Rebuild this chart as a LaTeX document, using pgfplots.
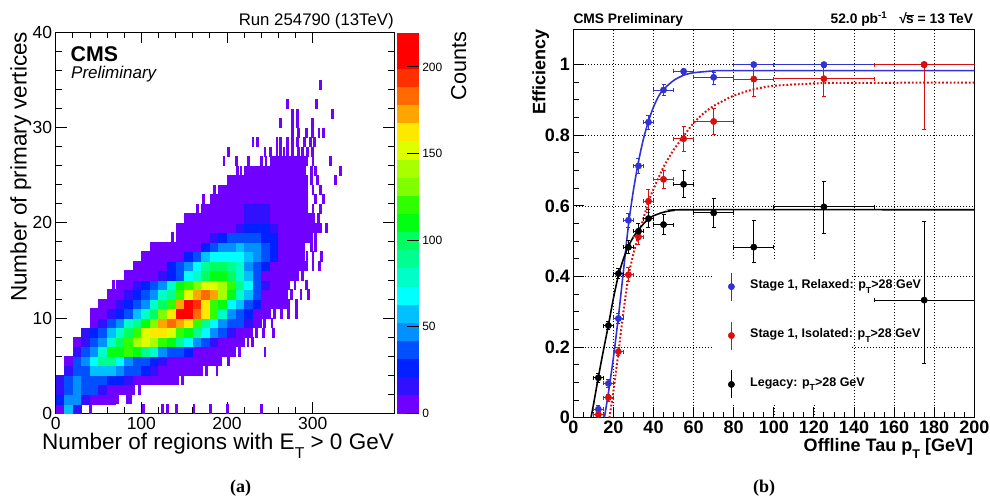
\documentclass[border=0pt]{standalone}
\usepackage{pgfplots}
\usepackage{pgfplotstable}
\pgfplotsset{compat=1.18}
\usepackage{fontspec}
\setmainfont{Liberation Sans}
\newfontfamily\timesbf{Liberation Serif}
\definecolor{cmsblue}{RGB}{50,50,210}
\definecolor{cmsred}{RGB}{215,15,15}
\definecolor{cms0}{RGB}{112,0,255}
\newcommand{\lowT}[1]{\raisebox{-0.38em}{\fontsize{#1}{#1}\selectfont T}}
\pgfplotsset{
  colormap={cms}{
    rgb255=(112,0,255) rgb255=(48,16,255) rgb255=(0,32,255) rgb255=(0,80,255)
    rgb255=(0,144,255) rgb255=(0,192,255) rgb255=(0,255,255) rgb255=(0,255,200)
    rgb255=(0,255,144) rgb255=(0,255,96) rgb255=(0,255,16) rgb255=(48,255,0)
    rgb255=(128,255,0) rgb255=(168,255,0) rgb255=(221,255,0) rgb255=(255,232,0)
    rgb255=(255,165,0) rgb255=(255,106,0) rgb255=(255,48,0) rgb255=(255,0,0)
    rgb255=(255,0,0)
  },
}
% 2D histogram: bin start x (width 10), row y (width 1), counts c
\pgfplotstableread{
x y c
0 0 8
10 0 58
20 0 18
0 1 22
10 1 50
20 1 45
30 1 15
40 1 8
50 1 6
60 1 4
0 2 18
10 2 40
20 2 45
30 2 38
40 2 32
50 2 18
60 2 10
70 2 6
80 2 3
0 3 12
10 3 35
20 3 45
30 3 40
40 3 38
50 3 35
60 3 30
70 3 25
80 3 15
90 3 10
100 3 7
110 3 5
120 3 4
130 3 3
10 4 15
20 4 35
30 4 40
40 4 58
50 4 62
60 4 60
70 4 45
80 4 38
90 4 35
100 4 30
110 4 12
120 4 9
130 4 8
140 4 6
150 4 4
160 4 3
10 5 10
20 5 35
30 5 45
40 5 70
50 5 85
60 5 88
70 5 65
80 5 45
90 5 40
100 5 35
110 5 30
120 5 15
130 5 10
140 5 8
150 5 6
160 5 5
170 5 4
180 5 2
20 6 20
30 6 38
40 6 50
50 6 80
60 6 105
70 6 115
80 6 118
90 6 110
100 6 90
110 6 75
120 6 50
130 6 40
140 6 35
150 6 25
160 6 10
170 6 8
180 6 6
190 6 4
200 6 2
20 7 5
30 7 18
40 7 35
50 7 45
60 7 75
70 7 95
80 7 125
90 7 145
100 7 150
110 7 140
120 7 120
130 7 112
140 7 85
150 7 70
160 7 45
170 7 35
180 7 12
190 7 8
200 7 6
210 7 3
30 8 15
40 8 30
50 8 40
60 8 60
70 8 78
80 8 100
90 8 120
100 8 150
110 8 160
120 8 165
130 8 150
140 8 125
150 8 115
160 8 85
170 8 70
180 8 45
190 8 35
200 8 12
210 8 8
220 8 5
40 9 8
50 9 15
60 9 35
70 9 45
80 9 75
90 9 85
100 9 110
110 9 130
120 9 170
130 9 185
140 9 175
150 9 165
160 9 125
170 9 90
180 9 70
190 9 45
200 9 38
210 9 32
220 9 20
230 9 8
40 10 3
50 10 10
60 10 15
70 10 30
80 10 40
90 10 60
100 10 75
110 10 100
120 10 130
130 10 165
140 10 200
150 10 212
160 10 185
170 10 160
180 10 120
190 10 80
200 10 50
210 10 38
220 10 28
230 10 10
240 10 6
50 11 3
60 11 10
70 11 15
80 11 30
90 11 40
100 11 45
110 11 75
120 11 95
130 11 125
140 11 175
150 11 215
160 11 195
170 11 165
180 11 125
190 11 110
200 11 70
210 11 55
220 11 35
230 11 28
240 11 10
250 11 7
260 11 4
60 12 5
70 12 10
80 12 15
90 12 30
100 12 40
110 12 45
120 12 75
130 12 90
140 12 125
150 12 150
160 12 175
170 12 180
180 12 170
190 12 140
200 12 115
210 12 75
220 12 60
230 12 35
240 12 10
250 12 7
260 12 5
70 13 8
80 13 10
90 13 15
100 13 30
110 13 38
120 13 50
130 13 75
140 13 105
150 13 120
160 13 130
170 13 150
180 13 155
190 13 140
200 13 120
210 13 90
220 13 65
230 13 40
240 13 12
250 13 8
260 13 5
80 14 3
90 14 6
100 14 8
110 14 10
120 14 20
130 14 30
140 14 40
150 14 65
160 14 75
170 14 95
180 14 110
190 14 112
200 14 100
210 14 80
220 14 60
230 14 35
240 14 10
250 14 8
260 14 6
270 14 3
90 15 2
100 15 6
110 15 8
120 15 10
130 15 25
140 15 32
150 15 42
160 15 70
170 15 85
180 15 95
190 15 100
200 15 90
210 15 75
220 15 45
230 15 38
240 15 30
250 15 10
260 15 7
270 15 5
280 15 3
100 16 3
110 16 5
120 16 7
130 16 8
140 16 10
150 16 30
160 16 38
170 16 55
180 16 65
190 16 70
200 16 72
210 16 68
220 16 62
230 16 50
240 16 35
250 16 25
260 16 9
270 16 6
280 16 4
110 17 2
120 17 4
130 17 6
140 17 8
150 17 9
160 17 10
170 17 30
180 17 35
190 17 48
200 17 52
210 17 55
220 17 50
230 17 42
240 17 32
250 17 25
260 17 9
270 17 6
280 17 4
140 18 3
150 18 5
160 18 7
170 18 9
180 18 15
190 18 25
200 18 32
210 18 38
220 18 40
230 18 36
240 18 30
250 18 24
260 18 10
270 18 7
280 18 5
290 18 3
140 19 2
150 19 4
160 19 6
170 19 8
180 19 9
190 19 10
200 19 10
210 19 18
220 19 25
230 19 28
240 19 22
250 19 12
260 19 8
270 19 7
280 19 5
290 19 4
300 19 2
150 20 2
160 20 4
170 20 5
180 20 7
190 20 8
200 20 9
210 20 10
220 20 16
230 20 18
240 20 14
250 20 9
260 20 8
270 20 6
280 20 4
290 20 2
170 21 2
180 21 4
190 21 6
200 21 8
210 21 9
220 21 12
230 21 13
240 21 12
250 21 9
260 21 8
270 21 6
280 21 4
180 22 2
190 22 4
200 22 6
210 22 7
220 22 8
230 22 9
240 22 9
250 22 8
260 22 7
270 22 5
280 22 3
190 23 2
200 23 3
210 23 5
220 23 6
230 23 6
240 23 7
250 23 6
260 23 5
270 23 4
280 23 3
200 24 2
210 24 3
220 24 4
230 24 4
240 24 5
250 24 5
260 24 4
270 24 3
280 24 3
220 25 2
230 25 2
240 25 3
250 25 3
260 25 3
270 25 2
280 25 2
250 26 2
260 26 2
270 26 2
280 26 2
}\cells
% isolated single entries (narrow sticks): x position, row
\pgfplotstableread{
x y
40 0
102 0
124 0
130 0
141 0
161 0
180 0
200 0
240 0
72 1
83 1
87 1
90 2
97 2
142 3
148 3
170 4
176 4
188 4
192 5
201 5
214 6
244 6
224 7
229 7
234 8
242 8
254 8
243 9
252 9
255 10
263 10
271 10
281 10
266 11
272 11
281 11
268 12
275 12
286 12
295 12
67 13
272 13
279 13
292 13
282 14
288 14
96 15
292 15
300 15
308 15
293 16
300 16
310 16
298 17
303 17
136 18
303 18
316 19
154 20
301 20
306 20
165 21
292 21
300 21
309 21
172 22
292 22
303 22
312 22
185 23
292 23
300 23
309 23
206 24
292 24
298 24
305 24
326 24
212 25
216 25
290 25
298 25
303 25
332 25
196 26
211 26
225 26
240 26
245 26
292 26
300 26
320 26
201 27
244 27
250 27
258 27
262 27
266 27
270 27
276 27
283 27
288 27
294 27
299 27
230 28
235 28
258 28
262 28
270 28
276 28
282 28
290 28
297 28
302 28
276 29
283 29
292 29
299 29
307 29
312 29
262 30
276 30
282 30
299 30
276 31
282 31
323 31
270 32
304 32
309 34
}\sticks
% efficiency points: x, y, x half width, y error plus, y error minus
\pgfplotstableread{
x y ex eyp eym
12.5 0.024 2.5 0.012 0.012
17.5 0.097 2.5 0.012 0.012
22.5 0.281 2.5 0.015 0.015
27.5 0.559 2.5 0.02 0.02
32.5 0.713 2.5 0.02 0.02
37.5 0.837 2.5 0.02 0.02
45 0.928 5 0.015 0.015
55 0.981 5 0.006 0.008
70 0.964 10 0.015 0.02
90 1.0 10 0 0.005
125 1.0 25 0 0.005
175 1.0 25 0 0.005
}\relaxed
\pgfplotstableread{
x y ex eyp eym
12.5 0.009 2.5 0.005 0.005
17.5 0.057 2.5 0.01 0.01
22.5 0.187 2.5 0.012 0.012
27.5 0.405 2.5 0.02 0.02
32.5 0.512 2.5 0.022 0.022
37.5 0.613 2.5 0.033 0.033
45 0.675 5 0.025 0.025
55 0.790 5 0.036 0.036
70 0.839 10 0.036 0.036
90 0.959 10 0.04 0.05
125 0.960 25 0.032 0.05
175 1.0 25 0 0.185
}\isolated
\pgfplotstableread{
x y ex eyp eym
12.5 0.113 2.5 0.012 0.012
17.5 0.261 2.5 0.012 0.012
22.5 0.408 2.5 0.015 0.015
27.5 0.483 2.5 0.018 0.018
32.5 0.528 2.5 0.022 0.022
37.5 0.564 2.5 0.025 0.025
45 0.547 5 0.028 0.028
55 0.661 5 0.038 0.038
70 0.580 10 0.042 0.042
90 0.483 10 0.075 0.042
125 0.597 25 0.072 0.076
175 0.333 25 0.223 0.178
}\legacy
\tikzset{lab/.style={inner sep=0pt}}
\begin{document}
\begin{tikzpicture}[x=1pt,y=1pt]
\useasboundingbox (0,0) rectangle (990,497);
% ---------------- panel (a) ----------------
\begin{axis}[
  at={(55.7pt,83.7pt)}, anchor=south west, scale only axis,
  width=338.6pt, height=381pt,
  xmin=0, xmax=395.3, ymin=0, ymax=40,
  xtick={0,100,200,300}, ytick={0,10,20,30,40},
  minor x tick num=4, minor y tick num=4,
  tick align=inside, tick pos=both,
  major tick length=11pt, minor tick length=6pt,
  every tick/.style={black, line width=0.8pt},
  axis line style={line width=0.9pt},
  ticklabel style={font=\fontsize{17.5}{17.5}\selectfont},
  /pgf/number format/assume math mode=true,
  colormap name=cms, colormap access=piecewise constant,
  point meta min=0, point meta max=220,
  colorbar,
  colorbar style={
    at={(parent axis.right of north east)}, anchor=north west, xshift=-6.1pt,
    scale only axis, width=21.6pt, height=381pt,
    ytick={0,50,100,150,200}, minor y tick num=0,
    yticklabel pos=right, ytick pos=right, tick align=inside,
    major tick length=12pt,
    every tick/.style={black, line width=0.9pt},
    axis line style={draw=none},
    yticklabel style={font=\fontsize{12}{12}\selectfont},
    /pgf/number format/assume math mode=true,
  },
]
\addplot[scatter, only marks, mark=square*, mark size=4.2pt,
  point meta=explicit,
  scatter/use mapped color={draw=mapped color, fill=mapped color},
  mark options={yscale=1.107, line width=0.3pt}]
  table[x expr=\thisrow{x}+5, y expr=\thisrow{y}+0.5, meta=c] {\cells};
\addplot[only marks, mark=square*, mark size=0.9pt, color=cms0,
  mark options={yscale=5.1, line width=0.3pt, draw=cms0, fill=cms0}]
  table[x=x, y expr=\thisrow{y}+0.5] {\sticks};
\end{axis}
% ---------------- panel (b) ----------------
\begin{axis}[
  at={(573.3pt,79.3pt)}, anchor=south west, scale only axis,
  width=401pt, height=388.4pt,
  xmin=0, xmax=200, ymin=0, ymax=1.1,
  xtick={0,20,...,200}, ytick={0,0.2,0.4,0.6,0.8,1},
  minor x tick num=3, minor y tick num=3,
  tick pos=left, tick align=inside,
  major tick length=11pt, minor tick length=6pt,
  every tick/.style={black, line width=0.9pt},
  axis line style={line width=1.2pt},
  grid=major,
  major grid style={black, line width=0.6pt, dash pattern=on 1pt off 2pt},
  ticklabel style={font=\bfseries\fontsize{18}{18}\selectfont},
  /pgf/number format/assume math mode=true,
  legend style={at={(axis cs:77.06,0.4126)}, anchor=north west,
    draw=none, fill=none, inner sep=0pt, row sep=20pt,
    /tikz/column sep=13.4pt,
    font=\bfseries\fontsize{12.5}{12.5}\selectfont},
  legend cell align=left,
]
\fill[white] (axis cs:70,0.04) rectangle (axis cs:138.5,0.446);
\addplot[cmsblue, line width=1.6pt, smooth, tension=0.4, forget plot] coordinates {
(15.5,0) (17.5,0.07) (20,0.17) (22.5,0.286) (25,0.415) (27.5,0.545) (30,0.645)
(32.5,0.725) (35,0.79) (37.5,0.84) (40,0.88) (42.5,0.91) (45,0.93) (50,0.955)
(55,0.97) (60,0.977) (70,0.982) (80,0.983) (200,0.983)};
\addplot[cmsred, line width=2pt, dash pattern=on 1.8pt off 2pt, smooth, tension=0.4, forget plot] coordinates {
(18,0) (20,0.075) (22.5,0.185) (25,0.3) (27.5,0.4) (30,0.465) (32.5,0.515)
(35,0.565) (37.5,0.612) (40,0.648) (45,0.71) (50,0.758) (55,0.797) (60,0.835)
(65,0.862) (70,0.883) (80,0.912) (90,0.93) (100,0.94) (115,0.945) (130,0.948) (200,0.949)};
\addplot[black, line width=1.6pt, smooth, tension=0.4, forget plot] coordinates {
(8.8,0) (10,0.035) (12.5,0.115) (15,0.19) (17.5,0.262) (20,0.338) (22.5,0.403)
(25,0.45) (27.5,0.486) (30,0.512) (32.5,0.532) (35,0.549) (37.5,0.563) (40,0.572)
(45,0.582) (50,0.587) (60,0.589) (200,0.589)};
\addplot[cmsblue, only marks, mark=*, mark size=3.2pt, forget plot,
  error bars/.cd, x dir=both, x explicit, y dir=both, y explicit,
  error bar style={line width=0.9pt},
  error mark options={rotate=90, mark size=2pt, line width=0.9pt}]
  table[x=x, y=y, x error=ex, y error plus=eyp, y error minus=eym] {\relaxed};
\addplot[cmsred, only marks, mark=*, mark size=3.2pt, forget plot,
  error bars/.cd, x dir=both, x explicit, y dir=both, y explicit,
  error bar style={line width=0.9pt},
  error mark options={rotate=90, mark size=2pt, line width=0.9pt}]
  table[x=x, y=y, x error=ex, y error plus=eyp, y error minus=eym] {\isolated};
\addplot[black, only marks, mark=*, mark size=3.2pt, forget plot,
  error bars/.cd, x dir=both, x explicit, y dir=both, y explicit,
  error bar style={line width=0.9pt},
  error mark options={rotate=90, mark size=2pt, line width=0.9pt}]
  table[x=x, y=y, x error=ex, y error plus=eyp, y error minus=eym] {\legacy};
\addlegendimage{legend image code/.code={\draw[cmsblue, line width=0.9pt] (0pt,-16pt) -- (0pt,12pt); \fill[cmsblue] (0pt,-2pt) circle (3.2pt);}}
\addlegendentry{Stage 1, Relaxed: p\lowT{8.8}>28 GeV}
\addlegendimage{legend image code/.code={\draw[cmsred, line width=0.9pt] (0pt,-16pt) -- (0pt,12pt); \fill[cmsred] (0pt,-2pt) circle (3.2pt);}}
\addlegendentry{Stage 1, Isolated: p\lowT{8.8}>28 GeV}
\addlegendimage{legend image code/.code={\draw[black, line width=0.9pt] (0pt,-16pt) -- (0pt,12pt); \fill[black] (0pt,-2pt) circle (3.2pt);}}
\addlegendentry{Legacy: p\lowT{8.8}>28 GeV}
\end{axis}
% ---------------- texts ----------------
\node[lab, anchor=base east, font=\fontsize{16.8}{16.8}\selectfont] at (394,471) {Run 254790 (13TeV)};
\node[lab, anchor=base west, text depth=0pt, font=\bfseries\fontsize{21.3}{21.3}\selectfont] at (70.5,435) {CMS};
\node[lab, anchor=base west, text height=12pt, font=\itshape\fontsize{17}{17}\selectfont] at (71,418.7) {Preliminary};
\node[lab, anchor=base east, font=\fontsize{22.5}{22.5}\selectfont] at (394,47) {Number of regions with E\lowT{15.7} > 0 GeV};
\node[lab, rotate=90, anchor=base east, font=\fontsize{22.5}{22.5}\selectfont] at (26.7,465.3) {Number of primary vertices};
\node[lab, rotate=90, anchor=base east, font=\fontsize{21.6}{21.6}\selectfont] at (466,465.3) {Counts};
\node[lab, anchor=base west, font=\bfseries\fontsize{13.8}{13.8}\selectfont] at (573.3,473) {CMS Preliminary};
\node[lab, anchor=base east, font=\bfseries\fontsize{13.8}{13.8}\selectfont] at (973.3,473) {52.0 pb\textsuperscript{-1}\hspace{12pt}√\kern-0.6pt$\overline{\hbox{s}}$ = 13 TeV};
\node[lab, rotate=90, anchor=base east, font=\bfseries\fontsize{18}{18}\selectfont] at (545.3,467.7) {Efficiency};
\node[lab, anchor=base east, font=\bfseries\fontsize{18}{18}\selectfont] at (973.3,45.3) {Offline Tau p\lowT{12.6} [GeV]};
\node[lab, anchor=base, font=\timesbf\bfseries\fontsize{18}{18}\selectfont] at (240.7,4.3) {(a)};
\node[lab, anchor=base, font=\timesbf\bfseries\fontsize{18}{18}\selectfont] at (764,4.3) {(b)};
\end{tikzpicture}
\end{document}
